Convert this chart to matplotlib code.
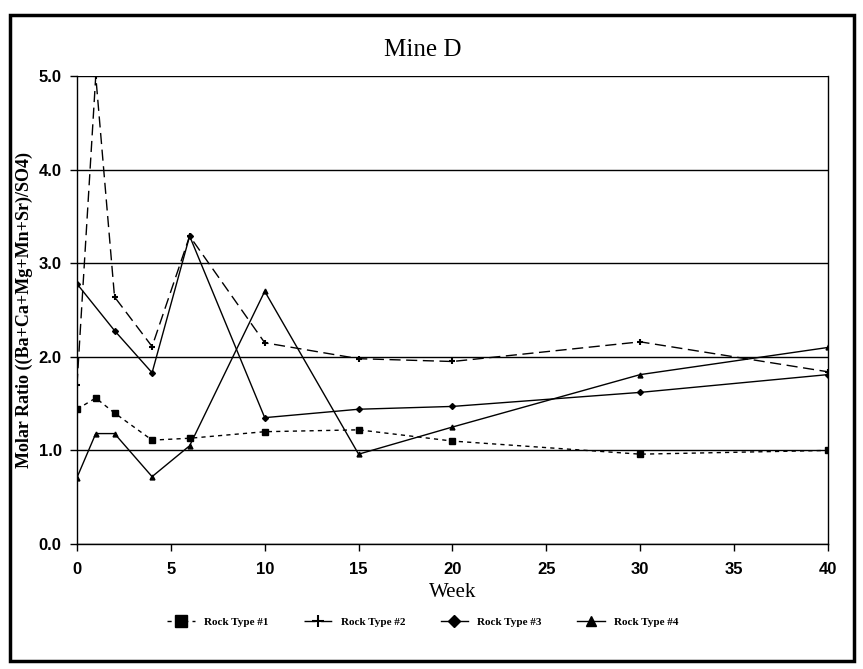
import matplotlib
matplotlib.use("Agg")
import matplotlib.pyplot as plt
from matplotlib.patches import Rectangle

# Data
weeks = [0, 1, 2, 4, 6, 10, 15, 20, 30, 40]
weeks_type3 = [0, 2, 4, 6, 10, 15, 20, 30, 40]
rock1 = [1.44, 1.56, 1.40, 1.11, 1.13, 1.20, 1.22, 1.10, 0.96, 1.00]
rock2 = [1.70, 5.00, 2.64, 2.11, 3.29, 2.15, 1.98, 1.95, 2.16, 1.84]
rock3 = [2.78, 2.28, 1.83, 3.29, 1.35, 1.44, 1.47, 1.62, 1.81]
rock4 = [0.71, 1.18, 1.18, 0.72, 1.05, 2.70, 0.96, 1.25, 1.81, 2.10]

x_ticks = [0, 5, 10, 15, 20, 25, 30, 35, 40]
y_ticks = [0.0, 1.0, 2.0, 3.0, 4.0, 5.0]

serif = 'Liberation Serif'
sans = 'Liberation Sans'

fig = plt.figure(figsize=(8.63, 6.69), dpi=100)
ax = fig.add_axes([0.0892, 0.1868, 0.8702, 0.6996])

# Plot the four rock types
ax.plot(weeks, rock1, color='black', linestyle=(0, (3, 3)), linewidth=1.0,
        marker='s', markersize=4.5, label='Rock Type #1')
ax.plot(weeks, rock2, color='black', linestyle=(0, (8, 4)), linewidth=1.0,
        marker='+', markersize=4, markeredgewidth=1.5, label='Rock Type #2')
ax.plot(weeks_type3, rock3, color='black', linestyle='-', linewidth=1.0,
        marker='D', markersize=3, label='Rock Type #3')
ax.plot(weeks, rock4, color='black', linestyle='-', linewidth=1.0,
        marker='^', markersize=3.5, label='Rock Type #4')

# Axes styling
ax.set_xlim(0, 40)
ax.set_ylim(0, 5)
ax.set_xticks(x_ticks)
ax.set_yticks(y_ticks)
ax.set_xticklabels([str(t) for t in x_ticks], fontfamily=sans, fontweight='bold', fontsize=12)
ax.set_yticklabels([f'{t:.1f}' for t in y_ticks], fontfamily=sans, fontweight='bold', fontsize=12)
ax.tick_params(direction='out', length=5, width=1, colors='black', pad=6)
ax.tick_params(axis='x', pad=8)
ax.yaxis.grid(True, color='black', linewidth=1.0)
ax.set_axisbelow(True)
for s in ['left', 'right', 'bottom']:
    ax.spines[s].set_linewidth(1.0)
ax.spines['top'].set_visible(False)

ax.set_xlabel('Week', fontfamily=serif, fontsize=15, labelpad=4)
ax.set_ylabel('Molar Ratio ((Ba+Ca+Mg+Mn+Sr)/SO4)', fontfamily=serif,
              fontweight='bold', fontsize=13, labelpad=4)
fig.text(0.49, 0.925, 'Mine D', fontfamily=serif, fontsize=18, ha='center', va='center')

# Legend below the axes
leg = fig.legend(loc='center', bbox_to_anchor=(0.49, 0.07), ncol=4, frameon=False,
                 prop={'family': serif, 'weight': 'bold', 'size': 8},
                 handlelength=2.5, columnspacing=3.2, markerscale=2.0)

# Outer border around the whole figure
fig.patches.append(Rectangle((0.012, 0.012), 0.978, 0.965, transform=fig.transFigure,
                             fill=False, edgecolor='black', linewidth=2.5))

fig.savefig('out.png', dpi=100)
